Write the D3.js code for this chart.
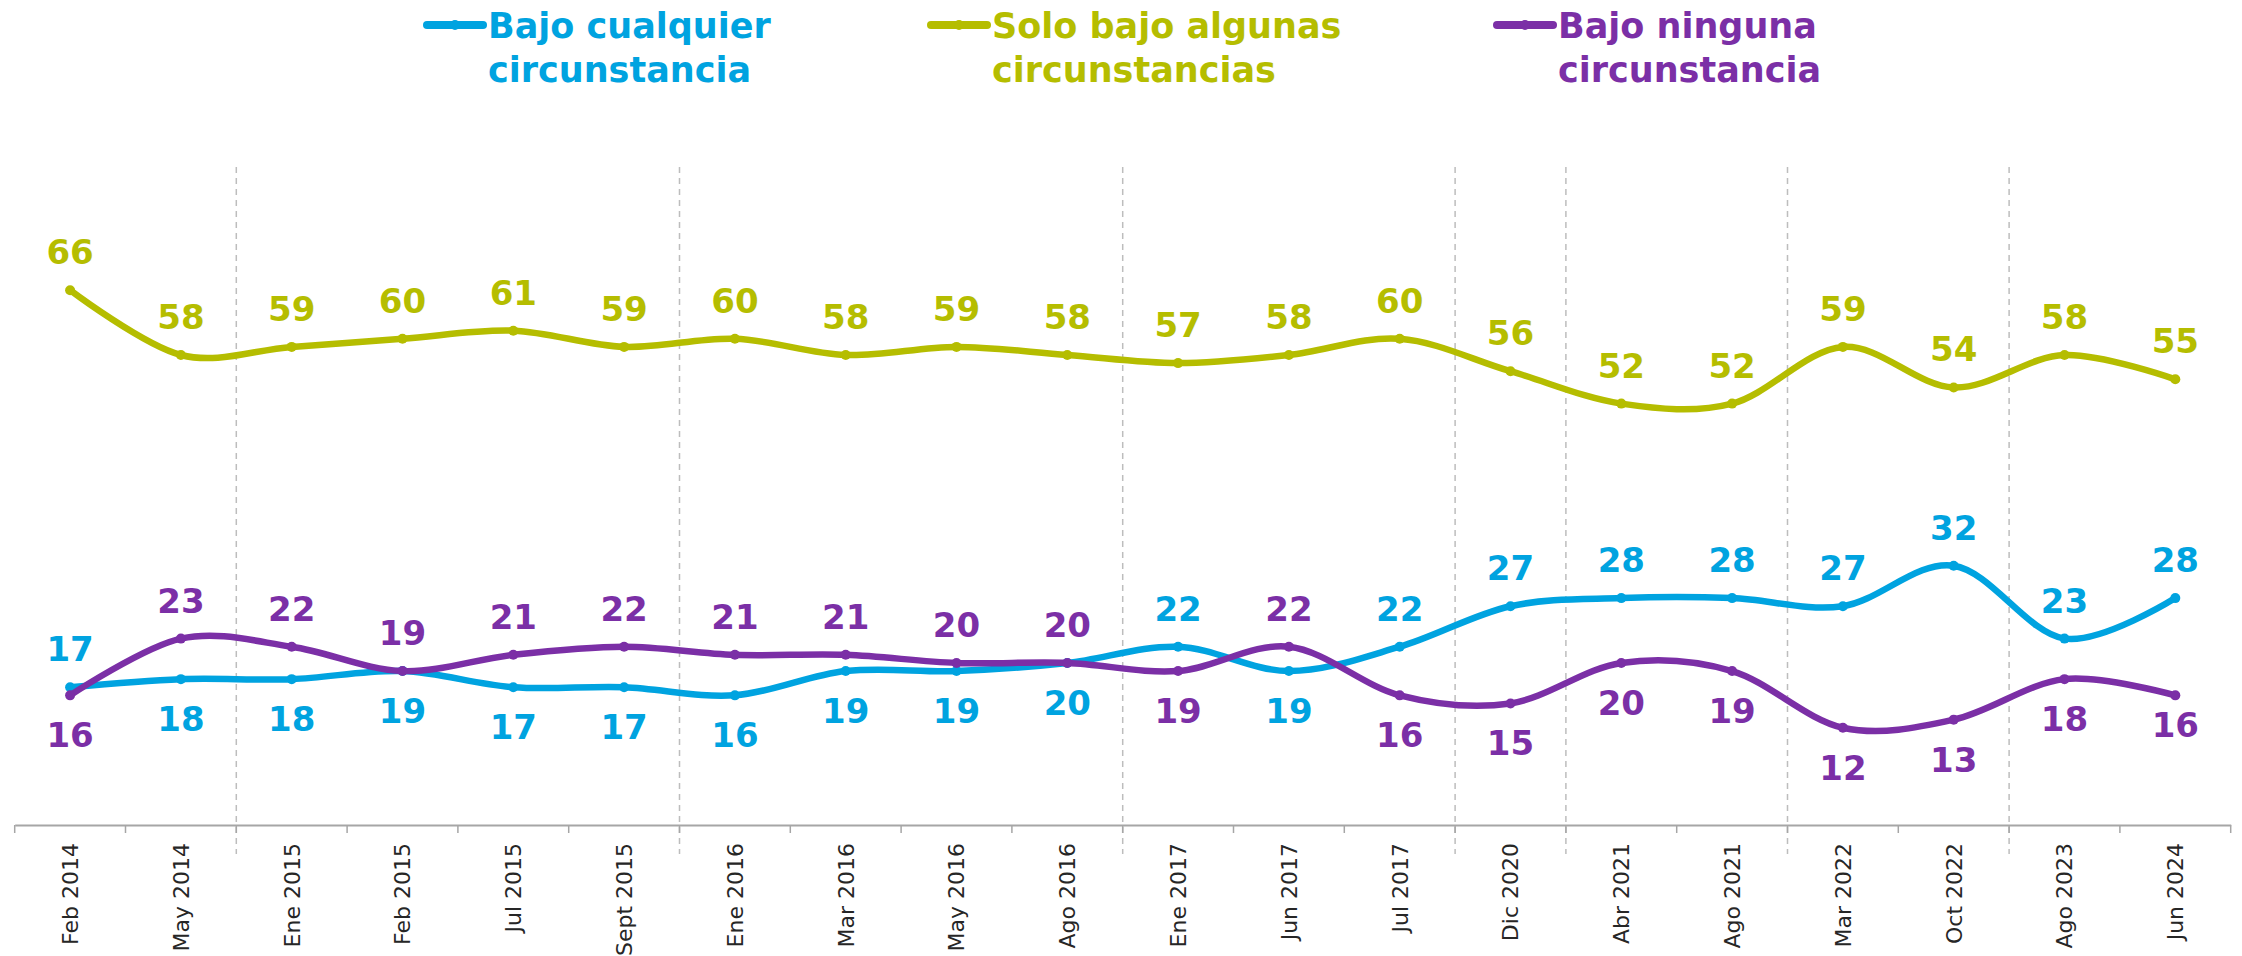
<!DOCTYPE html>
<html>
<head>
<meta charset="utf-8">
<script src="https://cdn.jsdelivr.net/npm/d3@7"></script>
<style>
  html, body { margin: 0; padding: 0; background: #ffffff; }
  svg { display: block; }
</style>
</head>
<body>
<svg id="chart" width="2242" height="956"></svg>
<script>
// ---- Data ----
const categories = ["Feb 2014","May 2014","Ene 2015","Feb 2015","Jul 2015","Sept 2015","Ene 2016","Mar 2016","May 2016","Ago 2016","Ene 2017","Jun 2017","Jul 2017","Dic 2020","Abr 2021","Ago 2021","Mar 2022","Oct 2022","Ago 2023","Jun 2024"];
const bajoCualquier = [17,18,18,19,17,17,16,19,19,20,22,19,22,27,28,28,27,32,23,28];
const soloAlgunas   = [66,58,59,60,61,59,60,58,59,58,57,58,60,56,52,52,59,54,58,55];
const bajoNinguna   = [16,23,22,19,21,22,21,21,20,20,19,22,16,15,20,19,12,13,18,16];
const seriesNames = ["Bajo cualquier|circunstancia","Solo bajo algunas|circunstancias","Bajo ninguna|circunstancia"];
const separatorsBefore = ["Ene 2015","Ene 2016","Ene 2017","Dic 2020","Abr 2021","Mar 2022","Ago 2023"];

// ---- Styles ----
const colors = ["#00A3E0", "#B5BD00", "#7B2FA6"];
const svg = d3.select("#chart");
const axisY = 825;
const x = d3.scaleBand().domain(categories).range([14.7, 2230.7]).padding(0);
const y = d3.scaleLinear().domain([0, 81.2]).range([axisY, 167]);
const cx = c => x(c) + x.bandwidth() / 2;

// separators (dashed)
svg.append("g").selectAll("line").data(separatorsBefore).join("line")
  .attr("x1", d => x(d)).attr("x2", d => x(d))
  .attr("y1", y(81.2)).attr("y2", axisY + 29)
  .attr("stroke", "#BDBDBD").attr("stroke-width", 1.5).attr("stroke-dasharray", "6,5");

// x axis
const gx = svg.append("g").attr("transform", `translate(0,${axisY})`)
  .call(d3.axisBottom(x).tickSize(0).tickPadding(0));
gx.select(".domain").attr("stroke", "#A6A6A6").attr("stroke-width", 2);
gx.selectAll(".tick text")
  .attr("transform", "rotate(-90)")
  .attr("x", -18).attr("y", 0).attr("dy", "0.36em")
  .style("text-anchor", "end")
  .style("font-family", "'DejaVu Sans', sans-serif")
  .style("font-size", "22px")
  .style("fill", "#262626");
// boundary tick marks
const bounds = categories.map(c => x(c)).concat([x.range()[1]]);
svg.append("g").selectAll("line").data(bounds).join("line")
  .attr("x1", d => d).attr("x2", d => d)
  .attr("y1", axisY).attr("y2", axisY + 8)
  .attr("stroke", "#A6A6A6").attr("stroke-width", 1.5);

// lines
const allSeries = [bajoCualquier, soloAlgunas, bajoNinguna];
const line = d3.line()
  .x((d, i) => cx(categories[i]))
  .y(d => y(d))
  .curve(d3.curveCatmullRom.alpha(0));

const drawOrder = [1, 0, 2];
drawOrder.forEach(si => {
  const vals = allSeries[si];
  svg.append("path").datum(vals)
    .attr("d", line)
    .attr("fill", "none")
    .attr("stroke", colors[si])
    .attr("stroke-width", 6.5)
    .attr("stroke-linecap", "round")
    .attr("stroke-linejoin", "round");
  svg.append("g").selectAll("circle").data(vals).join("circle")
    .attr("cx", (d, i) => cx(categories[i]))
    .attr("cy", d => y(d))
    .attr("r", 5)
    .attr("fill", colors[si]);
});

// labels: green always above; blue/purple above whichever is higher
function placeAbove(si, i) {
  if (si === 1) return true;
  const b = bajoCualquier[i], p = bajoNinguna[i];
  if (si === 0) return b > p;
  return !(b > p);
}
allSeries.forEach((vals, si) => {
  svg.append("g").selectAll("text").data(vals).join("text")
    .attr("x", (d, i) => cx(categories[i]))
    .attr("y", (d, i) => {
      if (placeAbove(si, i)) return y(d) - 26;
      return y(d) + (i === vals.length - 1 ? 42 : 52);
    })
    .attr("text-anchor", "middle")
    .style("font-family", "'DejaVu Sans', sans-serif")
    .style("font-weight", "bold")
    .style("font-size", "34px")
    .style("fill", colors[si])
    .text(d => d);
});

// legend
const legendX = [427, 931, 1497];
seriesNames.forEach((name, si) => {
  const g = svg.append("g").attr("transform", `translate(${legendX[si]},0)`);
  g.append("line").attr("x1", 0).attr("x2", 56).attr("y1", 25).attr("y2", 25)
    .attr("stroke", colors[si]).attr("stroke-width", 8).attr("stroke-linecap", "round");
  g.append("circle").attr("cx", 28).attr("cy", 25).attr("r", 5).attr("fill", colors[si]);
  const parts = name.split("|");
  parts.forEach((t, k) => {
    g.append("text").attr("x", 61).attr("y", 38 + k * 44)
      .style("font-family", "'DejaVu Sans', sans-serif")
      .style("font-weight", "bold")
      .style("font-size", "35px")
      .style("fill", colors[si])
      .text(t);
  });
});
</script>
</body>
</html>
